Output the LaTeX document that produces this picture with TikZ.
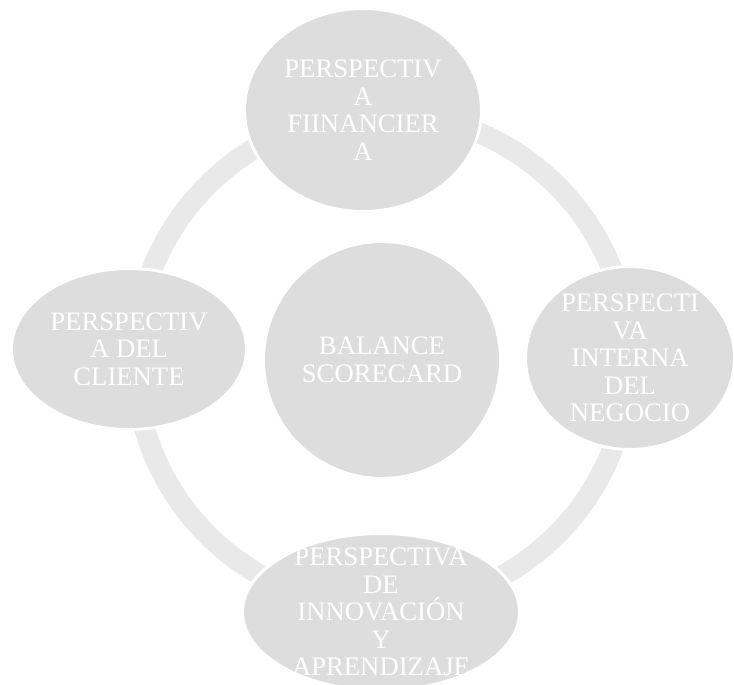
\documentclass[tikz,border=0pt]{standalone}
\usepackage{fontspec}
\setmainfont{Liberation Serif}
\usetikzlibrary{shapes.geometric}
\definecolor{bubblegray}{RGB}{221,221,221}
\definecolor{ringgray}{RGB}{233,233,233}

\begin{document}
\begin{tikzpicture}[x=1pt, y=-1pt,
    bubble/.style={ellipse, draw=white, line width=3pt, fill=bubblegray, inner sep=0pt},
    words/.style={text=white, align=center, inner sep=0pt,
                  font=\fontsize{26.7}{27.6}\selectfont},
    ring/.style={draw=ringgray, line width=21pt}]

\useasboundingbox (0,0) rectangle (734,685);

% Ring behind everything
\coordinate (mid) at (382,360);
\draw[ring] (mid) circle[radius=247pt];

% Centre
\node[bubble, circle, minimum size=237pt] (hub) at (mid) {};
\node[words] (hubtext) at (hub.center) {BALANCE\\SCORECARD};

% Perspectives
\node[bubble, minimum width=237pt, minimum height=203pt] (fin) at (363,110) {};
\node[words] (fintext) at (fin.center) {PERSPECTIV\\A\\FIINANCIER\\A};

\node[bubble, minimum width=209pt, minimum height=183pt] (proc) at (630,358) {};
\node[words] (proctext) at (proc.center) {PERSPECTI\\VA\\INTERNA\\DEL\\NEGOCIO};

\node[bubble, minimum width=277pt, minimum height=157pt] (learn) at (381,612) {};
\node[words] (learntext) at (learn.center) {PERSPECTIVA\\DE\\INNOVACIÓN\\Y\\APRENDIZAJE};

\node[bubble, minimum width=235pt, minimum height=161pt] (cust) at (129,349) {};
\node[words] (custtext) at (cust.center) {PERSPECTIV\\A DEL\\CLIENTE};
\end{tikzpicture}
\end{document}
